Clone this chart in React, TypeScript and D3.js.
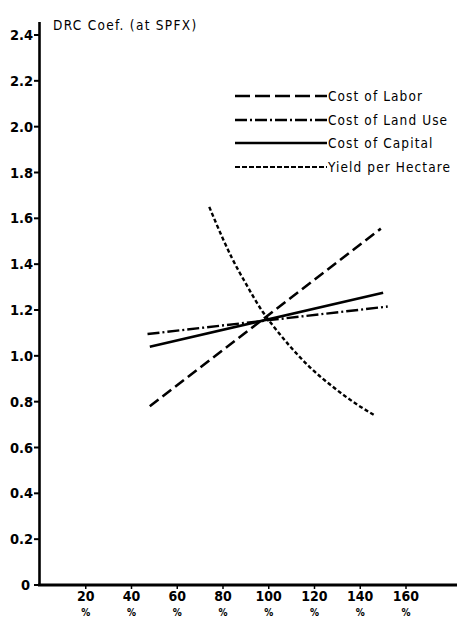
import React from "react";
import * as d3 from "d3";

const xTicks = [20, 40, 60, 80, 100, 120, 140, 160];
const yTicks = [0, 0.2, 0.4, 0.6, 0.8, 1.0, 1.2, 1.4, 1.6, 1.8, 2.0, 2.2, 2.4];

const laborX = [48, 149];
const laborY = [0.78, 1.555];
const landX = [47, 152];
const landY = [1.095, 1.215];
const capitalX = [48, 150];
const capitalY = [1.04, 1.275];
const yieldX = [74, 80, 84, 90, 97.5, 102, 109, 118, 128, 139, 146];
const yieldY = [1.65, 1.51, 1.425, 1.315, 1.19, 1.13, 1.045, 0.95, 0.865, 0.785, 0.742];

const legendLabels = ["Cost of Labor", "Cost of Land Use", "Cost of Capital", "Yield per Hectare"];
const dashes = ["11,5", "12,3,2,3", "", "4,2.5"];
const legendDashes = ["15,5", "12,3,2,3", "", "5,2"];

const W = 457;
const H = 619;
const FONT = "'Liberation Sans Narrow', 'DejaVu Sans Condensed', 'Liberation Sans', Arial, sans-serif";

export default function App() {
  const x = d3.scaleLinear().domain([0, 160]).range([40, 406]);
  const y = d3.scaleLinear().domain([0, 2.4]).range([585, 35]);
  const straight = d3
    .line<[number, number]>()
    .x((d) => x(d[0]))
    .y((d) => y(d[1]));
  const curved = d3
    .line<[number, number]>()
    .x((d) => x(d[0]))
    .y((d) => y(d[1]))
    .curve(d3.curveMonotoneX);
  const series = [
    { xs: laborX, ys: laborY, gen: straight, width: 2.6 },
    { xs: landX, ys: landY, gen: straight, width: 2.4 },
    { xs: capitalX, ys: capitalY, gen: straight, width: 2.6 },
    { xs: yieldX, ys: yieldY, gen: curved, width: 2.4 },
  ];
  const legendY = [96, 120, 143, 167];

  return (
    <svg
      width={W}
      height={H}
      style={{ position: "absolute", left: 0, top: 0, background: "#fff" }}
      fontFamily={FONT}
    >
      <rect x={0} y={0} width={W} height={H} fill="#fff" />
      {/* axes */}
      <line x1={39.5} x2={39.5} y1={22} y2={586} stroke="#000" strokeWidth={2.6} />
      <line x1={38} x2={W} y1={585} y2={585} stroke="#000" strokeWidth={3} />
      {yTicks.map((t) => (
        <g key={t}>
          <line x1={34} x2={39} y1={y(t)} y2={y(t)} stroke="#000" strokeWidth={2} />
          <text
            x={t === 0 ? 30 : 33}
            y={y(t) + 5}
            textAnchor="end"
            fontSize={14.5}
            fontWeight="bold"
          >
            {t === 0 ? "0" : t.toFixed(1)}
          </text>
        </g>
      ))}
      {xTicks.map((t) => (
        <g key={t}>
          <line x1={x(t)} x2={x(t)} y1={585} y2={589} stroke="#000" strokeWidth={1.5} />
          <text x={x(t)} y={601} textAnchor="middle" fontSize={14} fontWeight="bold">
            {t}
          </text>
          <text x={x(t)} y={616} textAnchor="middle" fontSize={10} fontWeight="bold">
            %
          </text>
        </g>
      ))}
      <text x={53} y={30} fontSize={13.5} letterSpacing={1.3}>
        DRC Coef. (at SPFX)
      </text>
      {/* series */}
      {series.map((s, i) => (
        <path
          key={i}
          d={s.gen(s.xs.map((v, j) => [v, s.ys[j]] as [number, number])) || ""}
          fill="none"
          stroke="#000"
          strokeWidth={s.width}
          strokeDasharray={dashes[i] || undefined}
        />
      ))}
      {/* legend */}
      {legendLabels.map((lab, i) => (
        <g key={lab}>
          <line
            x1={235}
            x2={327}
            y1={legendY[i]}
            y2={legendY[i]}
            stroke="#000"
            strokeWidth={i === 3 ? 2 : 2.4}
            strokeDasharray={legendDashes[i] || undefined}
          />
          <text x={328} y={legendY[i] + 5} fontSize={13.5} letterSpacing={1.1}>
            {lab}
          </text>
        </g>
      ))}
    </svg>
  );
}
